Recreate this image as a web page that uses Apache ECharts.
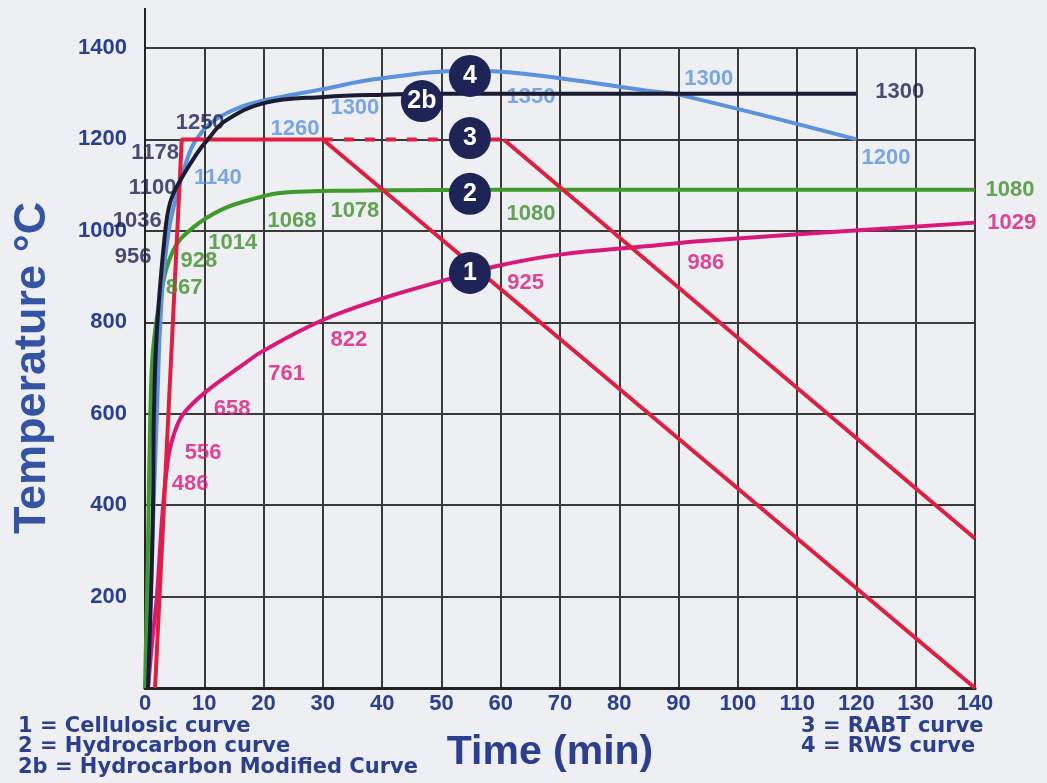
<!DOCTYPE html>
<html>
<head>
<meta charset="utf-8">
<script src="https://cdn.jsdelivr.net/npm/echarts@6/dist/echarts.min.js"></script>
<style>
  html, body { margin: 0; padding: 0; background: #eeeff3; }
  #main { width: 1047px; height: 783px; }
</style>
</head>
<body>
<div id="main"></div>
<script>
// x ticks: time in minutes, y ticks: temperature
var timeTicks = [0, 10, 20, 30, 40, 50, 60, 70, 80, 90, 100, 110, 120, 130, 140];
var tempTicks = [200, 400, 600, 800, 1000, 1200, 1400];

// 1 = Cellulosic curve
var celluTime = [0.5, 1.2, 2, 3, 4, 5, 6.5, 10, 16.3, 20, 30, 40, 50, 59, 70, 85, 94, 119, 140];
var celluTemp = [0, 100, 200, 390, 510, 560, 600, 645, 705, 738, 805, 852, 890, 922, 948, 967, 978, 1000, 1018];

// 2 = Hydrocarbon curve
var hcTime = [0, 0.5, 0.9, 1.35, 2.5, 4.7, 8.1, 13.2, 18.9, 22.8, 34.6, 60, 140];
var hcTemp = [0, 300, 600, 738, 847, 956, 1007, 1048, 1072, 1083, 1088, 1090, 1090];

// 2b = Hydrocarbon Modified Curve
var hcmTime = [0.5, 1, 1.35, 1.5, 2, 3.4, 4.2, 5.5, 8.8, 10.6, 13.5, 20.2, 30.2, 40, 50, 120];
var hcmTemp = [0, 199, 395, 596, 782, 998, 1060, 1100, 1170, 1200, 1240, 1280, 1293, 1298, 1300, 1300];

// 4 = RWS curve
var rwsTime = [0.5, 1.2, 2, 2.8, 4, 6, 7.2, 8.4, 11, 15, 20, 30, 39, 54, 60, 70, 85, 90, 120];
var rwsTemp = [0, 300, 600, 850, 1000, 1110, 1160, 1195, 1235, 1265, 1285, 1310, 1332, 1350, 1348, 1334, 1306, 1298, 1200];

// 3 = RABT curve (rise, hold 30 min, cooling) + dashed hold to 60 min + second cooling
var rabtTime = [1.7, 6.2, 30, 140];
var rabtTemp = [0, 1200, 1200, 0];
var rabtHoldTime = [30, 60.5];
var rabtHoldTemp = [1200, 1200];
var rabtLongTime = [60.5, 140];
var rabtLongTemp = [1200, 327];

// value annotations: [time, temperature, text]
var celluNotes = [[7.6, 446, '486'], [9.8, 515, '556'], [14.7, 611, '658'], [23.9, 688, '761'],
  [34.4, 762, '822'], [64.2, 887, '925'], [94.6, 930, '986'], [146.2, 1018, '1029']];
var hcNotes = [[6.6, 876, '867'], [9.1, 935, '928'], [14.8, 974, '1014'], [24.8, 1022, '1068'],
  [35.4, 1044, '1078'], [65.1, 1037, '1080'], [145.9, 1090, '1080']];
var hcmNotes = [[-2.0, 943, '956'], [-1.3, 1022, '1036'], [1.3, 1094, '1100'], [1.7, 1171, '1178'],
  [9.3, 1236, '1250'], [127.3, 1304, '1300']];
var rwsNotes = [[12.3, 1116, '1140'], [25.3, 1223, '1260'], [35.4, 1269, '1300'], [65.1, 1293, '1350'],
  [95.1, 1332, '1300'], [125, 1160, '1200']];

// numbered markers
var markerNames = ['4', '2b', '3', '2', '1'];
var markerTime = [54.8, 46.7, 54.8, 54.8, 54.8];
var markerTemp = [1339, 1284, 1203, 1081, 908];

var legendLeft = ['1 = Cellulosic curve', '2 = Hydrocarbon curve', '2b = Hydrocarbon Modified Curve'];
var legendRight = ['3 = RABT curve', '4 = RWS curve'];

function zip(xs, ys) {
  return xs.map(function (x, i) { return [x, ys[i]]; });
}

var FONT = '"Liberation Sans", Arial, sans-serif';
var AXIS_BLUE = '#2c3f8f';

function curve(name, xs, ys, color, extra) {
  var s = {
    name: name,
    type: 'line',
    data: zip(xs, ys),
    symbol: 'none',
    smooth: 0.4,
    lineStyle: { color: color, width: 4 },
    z: 3
  };
  return Object.assign(s, extra || {});
}

function notes(data, color) {
  return {
    type: 'scatter',
    data: data,
    symbolSize: 0,
    clip: false,
    silent: true,
    z: 4,
    label: {
      show: true,
      position: 'inside',
      formatter: function (p) { return p.data[2]; },
      color: color,
      fontFamily: FONT,
      fontWeight: 'bold',
      fontSize: 22
    }
  };
}

var chart = echarts.init(document.getElementById('main'));

var option = {
  backgroundColor: '#eeeff3',
  animation: false,
  grid: { left: 145, right: 72, top: 48, bottom: 95 },
  xAxis: {
    type: 'value',
    min: timeTicks[0],
    max: timeTicks[timeTicks.length - 1],
    interval: 10,
    name: 'Time (min)',
    nameLocation: 'middle',
    nameGap: 44,
    nameTextStyle: {
      color: AXIS_BLUE, fontFamily: FONT, fontWeight: 'bold', fontSize: 41,
      padding: [0, 20, 0, 0]
    },
    axisLine: { lineStyle: { color: '#222', width: 3 } },
    axisTick: { show: false },
    splitLine: { lineStyle: { color: '#3a3a3a', width: 2 } },
    axisLabel: { color: AXIS_BLUE, fontFamily: FONT, fontWeight: 'bold', fontSize: 22, margin: 5 }
  },
  yAxis: {
    type: 'value',
    min: 0,
    max: tempTicks[tempTicks.length - 1],
    interval: 200,
    name: 'Temperature °C',
    nameLocation: 'middle',
    nameRotate: 90,
    nameGap: 90,
    nameTextStyle: { color: '#3553a3', fontFamily: FONT, fontWeight: 'bold', fontSize: 45 },
    axisLine: { show: true, lineStyle: { color: '#222', width: 2 } },
    axisTick: { show: false },
    splitLine: { lineStyle: { color: '#3a3a3a', width: 2 } },
    axisLabel: {
      color: AXIS_BLUE, fontFamily: FONT, fontWeight: 'bold', fontSize: 22, margin: 18,
      formatter: function (v) { return tempTicks.indexOf(v) >= 0 ? String(v) : ''; }
    }
  },
  series: [
    curve('Cellulosic', celluTime, celluTemp, '#d8197a'),
    curve('Hydrocarbon', hcTime, hcTemp, '#3f9a2c'),
    curve('RWS', rwsTime, rwsTemp, '#5b91dd'),
    curve('Hydrocarbon Modified', hcmTime, hcmTemp, '#1b1b32', { z: 5 }),
    curve('RABT', rabtTime, rabtTemp, '#df1f3f', { smooth: false }),
    curve('RABT hold', rabtHoldTime, rabtHoldTemp, '#df1f3f', {
      smooth: false, lineStyle: { color: '#df1f3f', width: 4, type: [10, 11] }
    }),
    curve('RABT long', rabtLongTime, rabtLongTemp, '#df1f3f', { smooth: false }),
    notes(celluNotes, '#d8197a'),
    notes(hcNotes, '#3f8f2a'),
    notes(hcmNotes, '#1e2052'),
    Object.assign(notes(rwsNotes, '#5b93de'), { z: 2 }),
    {
      type: 'scatter',
      data: markerTime.map(function (t, i) { return [t, markerTemp[i], markerNames[i]]; }),
      symbol: 'circle',
      symbolSize: 42,
      silent: true,
      z: 10,
      itemStyle: { color: '#1f2457', opacity: 1 },
      label: {
        show: true,
        position: 'inside',
        formatter: function (p) { return p.data[2]; },
        color: '#ffffff',
        fontFamily: FONT,
        fontWeight: 'bold',
        fontSize: 25
      }
    }
  ]
};

chart.setOption(option);

// extra decorations: y axis line running above the grid, and the curve legend texts
var topPt = chart.convertToPixel({ gridIndex: 0 }, [0, 1400]);
var graphics = [{
  type: 'line',
  shape: { x1: topPt[0], y1: topPt[1], x2: topPt[0], y2: 8 },
  style: { stroke: '#222', lineWidth: 2 },
  z: 5
}];
legendLeft.forEach(function (txt, i) {
  graphics.push({
    type: 'text', left: 18, top: 716 + i * 20.5,
    style: { text: txt, fill: AXIS_BLUE, font: 'bold 21px "DejaVu Sans", sans-serif' }
  });
});
legendRight.forEach(function (txt, i) {
  graphics.push({
    type: 'text', left: 801, top: 716 + i * 20.5,
    style: { text: txt, fill: AXIS_BLUE, font: 'bold 21px "DejaVu Sans", sans-serif' }
  });
});
chart.setOption({ graphic: graphics });
</script>
</body>
</html>
